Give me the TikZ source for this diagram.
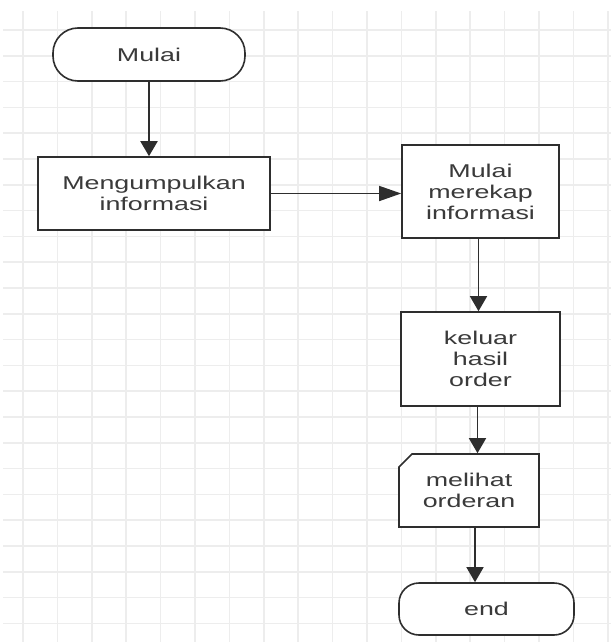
\documentclass[tikz,border=0pt]{standalone}
\usepackage{fontspec}
\newfontfamily\diagfont[FakeStretch=1.45]{Liberation Sans}
\usetikzlibrary{arrows.meta,calc}
\definecolor{gridc}{HTML}{EDEDED}
\definecolor{linec}{HTML}{2E2E2E}
\definecolor{textc}{HTML}{3A3A3A}
\begin{document}
\begin{tikzpicture}[x=1pt,y=-1pt,
  base/.style={draw=linec,line width=1.6pt,fill=white,text=textc,align=center,inner sep=0pt,
    font=\diagfont\fontsize{18.5}{21}\selectfont},
  procbox/.style={base,rectangle},
  termbox/.style={base,rounded corners=22pt},
  vconn/.style={draw=linec,line width=1.5pt,-{Triangle[length=15pt,width=17pt]}},
  hconn/.style={draw=linec,line width=1.5pt,-{Triangle[length=22pt,width=15pt]}}]
\useasboundingbox (0,0) rectangle (611,642);
% grid
\foreach \k in {0,...,17} \draw[gridc,line width=1.5pt] ({23+34.4*\k},11) -- ({23+34.4*\k},642);
\foreach \k in {0,...,23} \draw[gridc,line width=1.5pt] (3,{30+25.8*\k}) -- (611,{30+25.8*\k});
% nodes
\node[termbox,minimum width=192pt,minimum height=53pt,rounded corners=25pt] (start) at (149,54.5) {Mulai};
\node[procbox,minimum width=232pt,minimum height=73pt] (collect) at (154,193.5) {Mengumpulkan\\informasi};
\node[procbox,minimum width=157pt,minimum height=93pt] (recap) at (480.5,191.5) {Mulai\\merekap\\informasi};
\node[procbox,minimum width=159pt,minimum height=94pt] (result) at (480.5,359) {keluar\\hasil\\order};
\coordinate (viewnw) at (399,454);
\coordinate (viewse) at (539,527);
\draw[linec,line width=1.6pt,fill=white]
  ($(viewnw)+(13,0)$) -- (viewnw -| viewse) -- (viewse) -- (viewse -| viewnw)
  -- ($(viewnw)+(0,13)$) -- cycle;
\node[base,draw=none,fill=none,minimum width=140pt,minimum height=73pt] (view) at ($(viewnw)!0.5!(viewse)$) {melihat\\orderan};
\node[termbox,minimum width=175pt,minimum height=52pt,rounded corners=20pt] (finish) at (486.5,609) {end};
% connectors
\draw[vconn,line width=2pt] (start.south) -- (start.south |- collect.north);
\draw[hconn] (collect.east) -- (collect.east -| recap.west);
\draw[vconn] ([xshift=-2pt]recap.south) -- ([xshift=-2pt]recap.south |- result.north);
\draw[vconn] ([xshift=-3pt]result.south) -- ([xshift=-3pt]result.south |- view.north);
\draw[vconn] ([xshift=6pt]view.south) -- ([xshift=6pt]view.south |- finish.north);
\end{tikzpicture}
\end{document}
